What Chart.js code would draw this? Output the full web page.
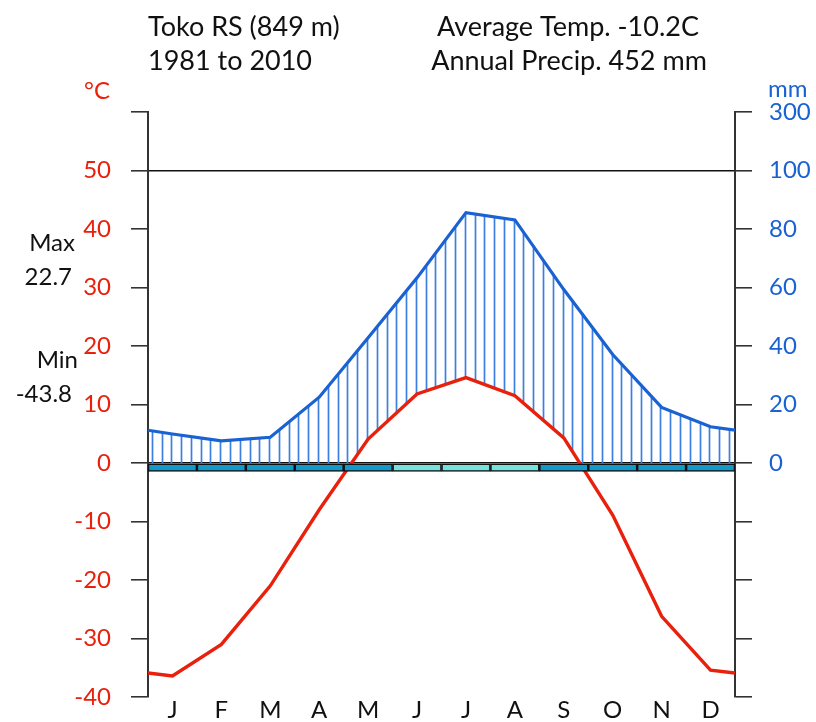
<!DOCTYPE html>
<html>
<head>
<meta charset="utf-8">
<script src="https://cdn.jsdelivr.net/npm/chart.js@4.4.1/dist/chart.umd.min.js"></script>
<style>
  html, body { margin: 0; padding: 0; background: #fff; }
  #wrap { position: relative; width: 816px; height: 722px; }
</style>
</head>
<body>
<div id="wrap"><canvas id="climate" width="816" height="722"></canvas></div>
<script>
// ── Data ──
const months = ['J', 'F', 'M', 'A', 'M', 'J', 'J', 'A', 'S', 'O', 'N', 'D'];
const tempC = [-36.4, -31.0, -21.0, -8.0, 4.1, 11.8, 14.6, 11.5, 4.3, -8.9, -26.2, -35.4];
const precipMm = [9.9, 7.6, 8.8, 22.5, 42.8, 63.3, 85.6, 83.1, 59.3, 37.1, 19.0, 12.4];
const tempEdge = -35.9;     // value where the curve meets both axes
const precipEdge = 11.2;
const frostMonths = [1, 1, 1, 1, 1, 0, 0, 0, 1, 1, 1, 1]; // 1 = frost bar, 0 = light bar
const tempTicks = [-40, -30, -20, -10, 0, 10, 20, 30, 40, 50, 60];
const precipTickLabels = ['', '', '', '', '0', '20', '40', '60', '80', '100', '300'];
const header = {
  station: 'Toko RS (849 m)',
  period: '1981 to 2010',
  avgTemp: 'Average Temp. -10.2C',
  annPrecip: 'Annual Precip. 452 mm',
  max: '22.7',
  min: '-43.8',
};

const RED = '#e8200c';
const BLUE = '#1a62d2';
const HATCH = '#3b7fe0';
const FONT = "Lato, 'Open Sans', sans-serif";

// build series with the edge values at the plot borders
const tempPoints = [{ x: 0, y: tempEdge }]
  .concat(tempC.map((v, i) => ({ x: i + 0.5, y: v })))
  .concat([{ x: 12, y: tempEdge }]);
const precipPoints = [{ x: 0, y: precipEdge }]
  .concat(precipMm.map((v, i) => ({ x: i + 0.5, y: v })))
  .concat([{ x: 12, y: precipEdge }]);
const frostBars = months.map((m, i) => ({ x: i + 0.5, y: [-1.45, 0] }));

// ── Hatching between the curves ──
function yAt(points, x) {
  for (let i = 0; i < points.length - 1; i++) {
    const a = points[i], b = points[i + 1];
    if (x >= a.x && x <= b.x) {
      return a.y + (b.y - a.y) * (x - a.x) / (b.x - a.x);
    }
  }
  return points[points.length - 1].y;
}

const hatchPlugin = {
  id: 'hatch',
  beforeDatasetsDraw(chart) {
    const { ctx, chartArea } = chart;
    const tMeta = chart.getDatasetMeta(0).data;
    const pMeta = chart.getDatasetMeta(1).data;
    const zeroY = chart.scales.y.getPixelForValue(0);
    const n = 60;
    const step = (chartArea.right - chartArea.left) / n;
    ctx.save();
    ctx.strokeStyle = HATCH;
    ctx.lineWidth = 1.7;
    for (let i = 0; i < n; i++) {
      const x = chartArea.left + (i + 0.38) * step;
      const top = yAt(pMeta, x);
      const bot = Math.min(yAt(tMeta, x), zeroY);
      if (top < bot) {
        ctx.beginPath();
        ctx.moveTo(Math.round(x) + 0.5, top);
        ctx.lineTo(Math.round(x) + 0.5, bot);
        ctx.stroke();
      }
    }
    ctx.restore();
  },
};

// ── Header and side texts ──
const textPlugin = {
  id: 'texts',
  afterDraw(chart) {
    const { ctx } = chart;
    ctx.save();
    ctx.textBaseline = 'middle';
    ctx.fillStyle = '#111';
    ctx.font = `27px ${FONT}`;
    ctx.textAlign = 'left';
    ctx.fillText(header.station, 148, 27);
    ctx.fillText(header.period, 148, 61);
    ctx.textAlign = 'center';
    ctx.fillText(header.avgTemp, 568, 27);
    ctx.fillText(header.annPrecip, 569, 61);

    ctx.font = `24px ${FONT}`;
    ctx.textAlign = 'right';
    ctx.fillText('Max', 75, 243);
    ctx.fillText(header.max, 72, 277);
    ctx.fillText('Min', 78, 360);
    ctx.fillText(header.min, 72, 394);

    ctx.textAlign = 'left';
    ctx.fillStyle = RED;
    ctx.fillText('°C', 84, 91);
    ctx.fillStyle = BLUE;
    ctx.fillText('mm', 768, 89);
    ctx.restore();
  },
};

// y axes must not push the plot area in with their label overhang
const noOverhang = (w) => s => { s.width = w; s.paddingTop = 0; s.paddingBottom = 0; };

const ctx = document.getElementById('climate').getContext('2d');
new Chart(ctx, {
  data: {
    datasets: [
      {
        type: 'line',
        label: 'Temperature',
        data: tempPoints,
        yAxisID: 'y',
        borderColor: RED,
        borderWidth: 3.4,
        pointRadius: 0,
        tension: 0,
        order: 1,
      },
      {
        type: 'line',
        label: 'Precipitation',
        data: precipPoints,
        yAxisID: 'yP',
        borderColor: BLUE,
        borderWidth: 3.2,
        pointRadius: 0,
        tension: 0,
        order: 2,
      },
      {
        type: 'bar',
        label: 'Frost',
        data: frostBars,
        yAxisID: 'y',
        backgroundColor: frostMonths.map(f => f ? '#1199c9' : '#76e2dc'),
        borderColor: '#111',
        borderWidth: 1.6,
        borderSkipped: false,
        barPercentage: 1,
        categoryPercentage: 1,
        order: 0,
      },
    ],
  },
  options: {
    responsive: false,
    animation: false,
    events: [],
    layout: { autoPadding: false, padding: { top: 112, left: 0, right: 0, bottom: 0 } },
    plugins: { legend: { display: false }, tooltip: { enabled: false } },
    scales: {
      x: {
        type: 'linear',
        offset: false,
        min: 0, max: 12,
        grid: { display: false, drawTicks: false, tickLength: 0 },
        border: { display: false },
        afterBuildTicks: s => { s.ticks = months.map((m, i) => ({ value: i + 0.5 })); },
        afterFit: s => { s.height = 25; s.paddingLeft = 0; s.paddingRight = 0; },
        ticks: {
          autoSkip: false,
          maxRotation: 0,
          padding: 0,
          color: '#111',
          font: { family: FONT, size: 24, lineHeight: 1.1 },
          callback: (v, i) => months[i],
        },
      },
      y: {
        type: 'linear',
        position: 'left',
        min: -40, max: 60,
        afterBuildTicks: s => { s.ticks = tempTicks.map(v => ({ value: v })); },
        afterFit: noOverhang(148),
        border: { color: '#333', width: 2 },
        grid: {
          drawOnChartArea: true,
          color: c => (c.tick && (c.tick.value === 50 || c.tick.value === 0)) ? '#111' : 'rgba(0,0,0,0)',
          tickColor: '#333',
          tickLength: 17,
          lineWidth: 1.6,
        },
        ticks: {
          padding: 20,
          color: RED,
          font: { family: FONT, size: 24 },
          callback: v => v === 60 ? '' : v,
        },
      },
      yP: {
        type: 'linear',
        position: 'right',
        min: -80, max: 120,
        afterBuildTicks: s => { s.ticks = precipTickLabels.map((t, i) => ({ value: -80 + i * 20 })); },
        afterFit: noOverhang(81),
        border: { color: '#333', width: 2 },
        grid: {
          drawOnChartArea: false,
          tickColor: '#333',
          tickLength: 17,
          lineWidth: 1.6,
        },
        ticks: {
          padding: 17,
          color: BLUE,
          font: { family: FONT, size: 24 },
          callback: (v, i) => precipTickLabels[i],
        },
      },
    },
  },
  plugins: [hatchPlugin, textPlugin],
});
</script>
</body>
</html>
